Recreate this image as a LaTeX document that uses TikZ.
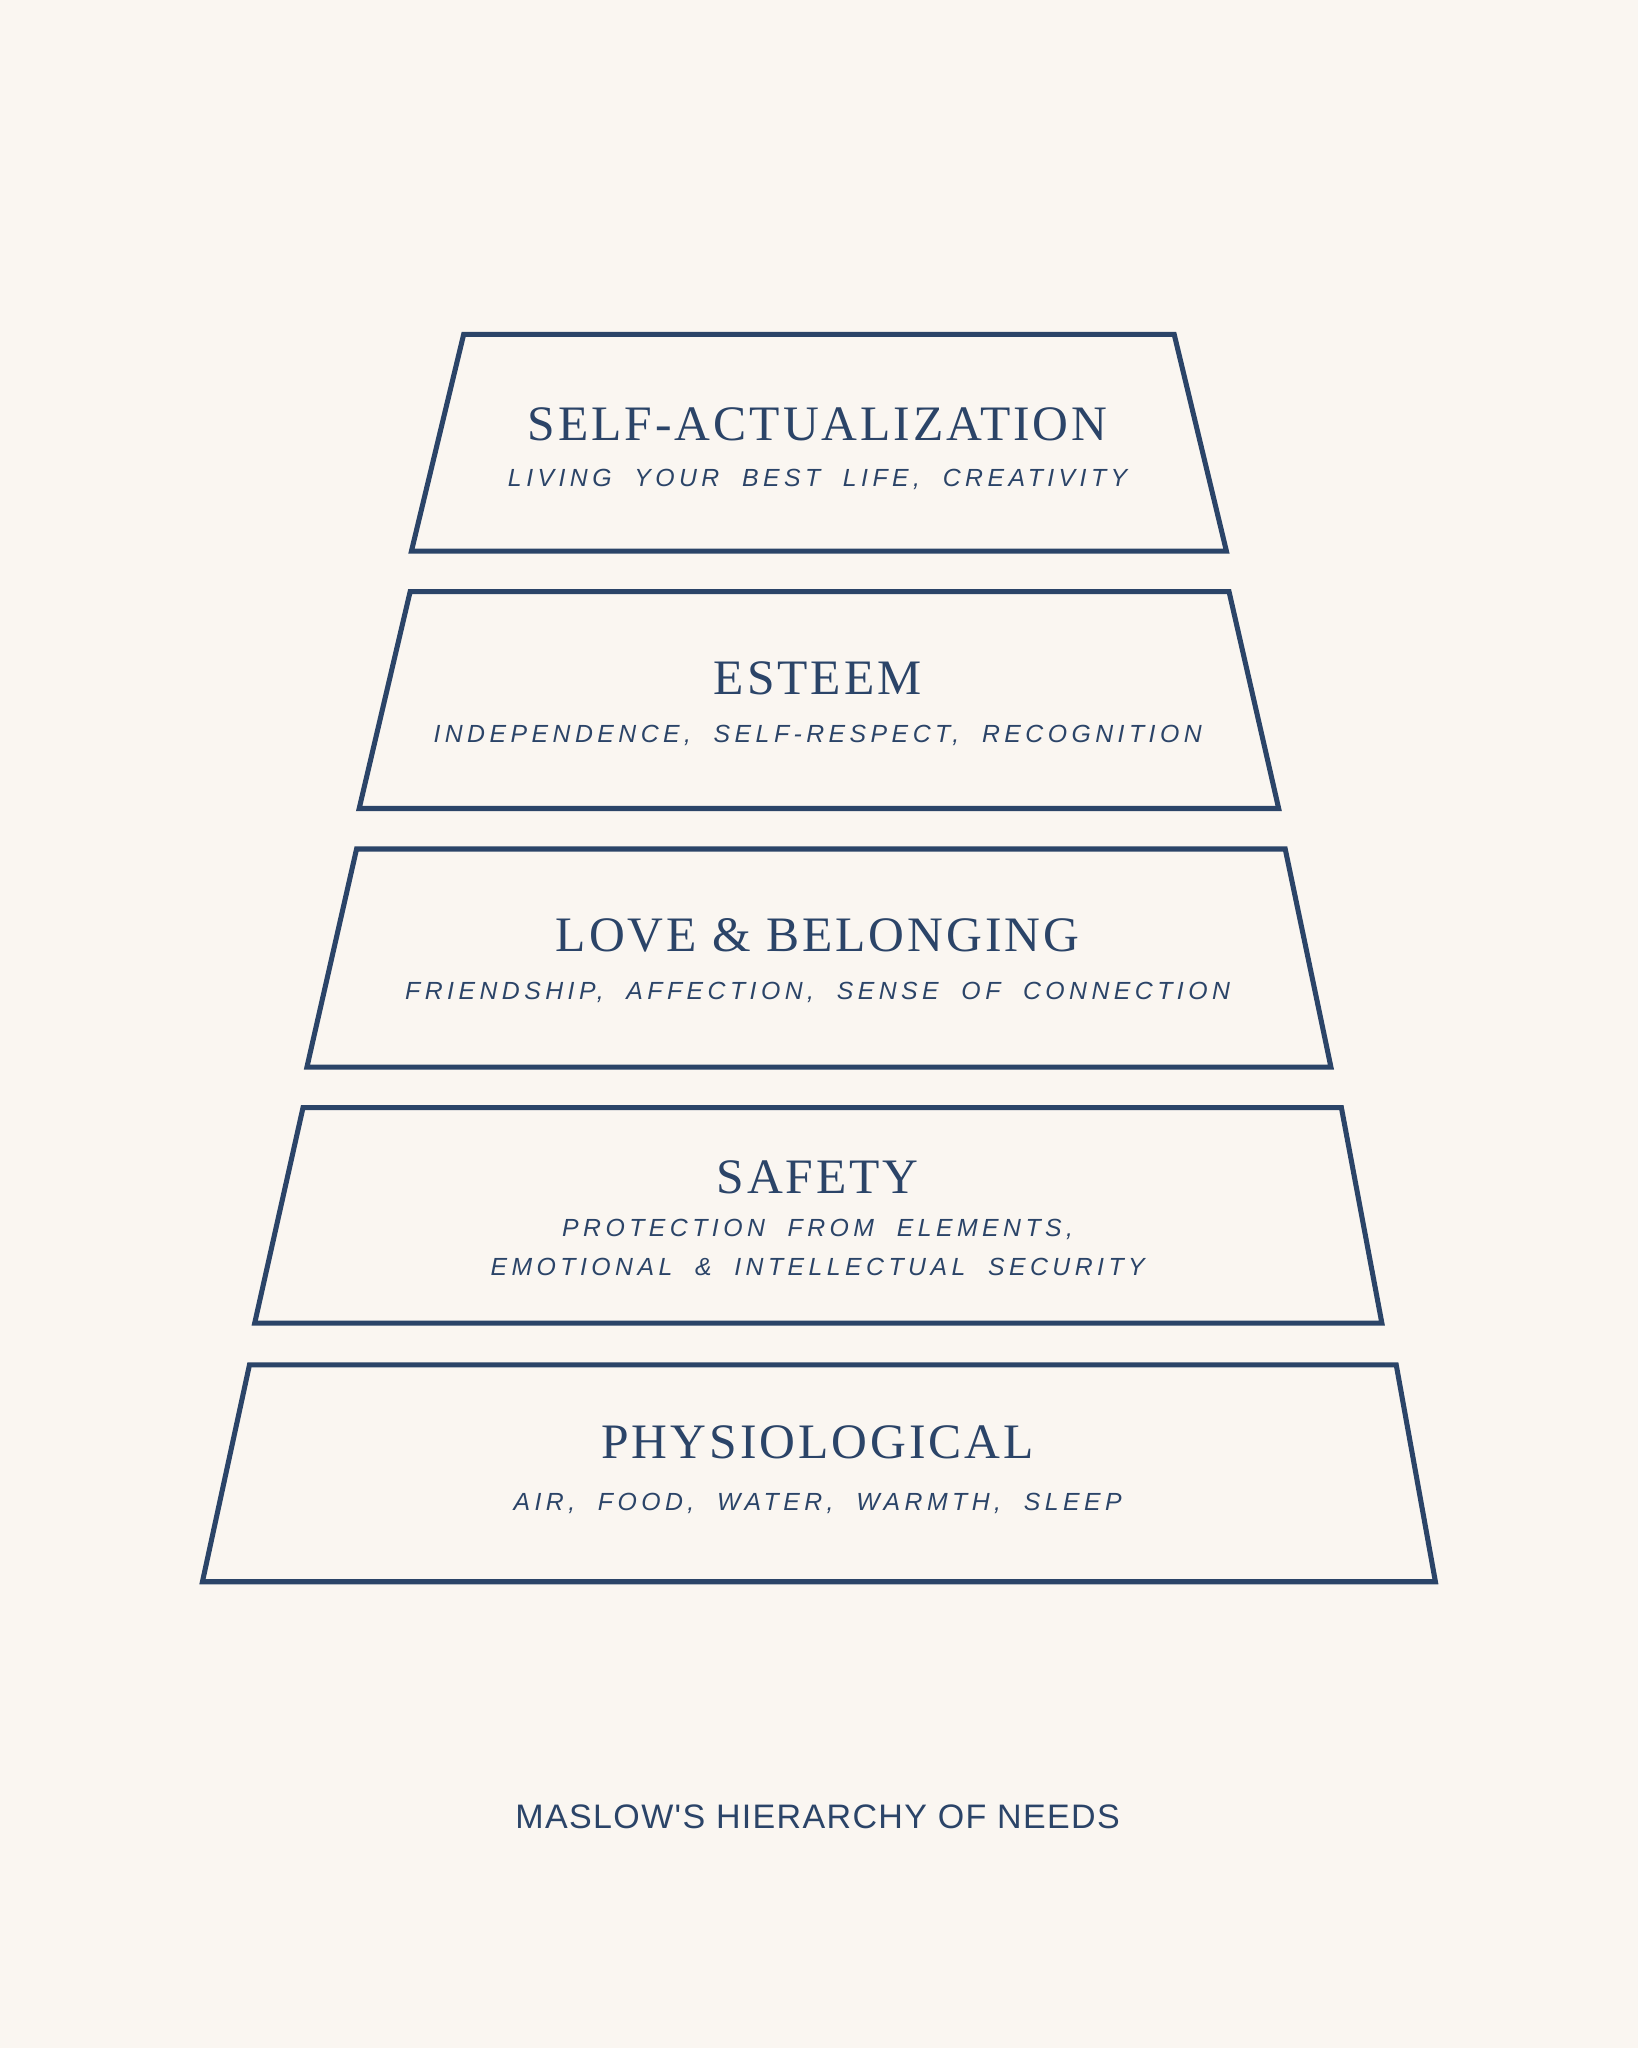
\documentclass[tikz,border=0pt]{standalone}
\usepackage{fontspec}
\setmainfont{Liberation Serif}
\newfontfamily\tierfont[LetterSpace=6]{Liberation Serif}
\newfontfamily\notefont[LetterSpace=18,WordSpace=2]{Liberation Sans}
\newfontfamily\footfont[LetterSpace=4]{Liberation Sans}
\definecolor{navy}{HTML}{2B4468}
\definecolor{paper}{HTML}{FAF6F1}
\tikzset{
  tier/.style={draw=navy, line width=1.1pt, line join=miter},
  tiername/.style={text=navy, font=\tierfont\fontsize{10.8}{13}\selectfont},
  tiernote/.style={text=navy, font=\notefont\itshape\fontsize{5.4}{8.5}\selectfont, align=center},
}
\begin{document}
\begin{tikzpicture}[x=0.01cm, y=-0.01cm]
    % Background
    \fill[paper] (0,0) rectangle (1254,1568);
    \useasboundingbox (0,0) rectangle (1254,1568);

    % Tiers
    \draw[tier] (355,256) -- (899,256) -- (939,422) -- (315,422) -- cycle;
    \draw[tier] (314,453) -- (941,453) -- (979,619) -- (275,619) -- cycle;
    \draw[tier] (273,650) -- (984,650) -- (1019,817) -- (235,817) -- cycle;
    \draw[tier] (232,848) -- (1027,848) -- (1058,1013) -- (195,1013) -- cycle;
    \draw[tier] (191,1045) -- (1069,1045) -- (1099,1211) -- (155,1211) -- cycle;

    % Labels
    \node[tiername] (self) at (626,325) {SELF-ACTUALIZATION};
    \node[tiernote] (selfnote) at (626,367) {LIVING YOUR BEST LIFE, CREATIVITY};

    \node[tiername] (esteem) at (626,519) {ESTEEM};
    \node[tiernote] (esteemnote) at (626,563) {INDEPENDENCE, SELF-RESPECT, RECOGNITION};

    \node[tiername] (love) at (626,716) {LOVE \& BELONGING};
    \node[tiernote] (lovenote) at (626,760) {FRIENDSHIP, AFFECTION, SENSE OF CONNECTION};

    \node[tiername] (safety) at (626,901) {SAFETY};
    \node[tiernote] (safetynote) at (626,955) {PROTECTION FROM ELEMENTS,\\EMOTIONAL \& INTELLECTUAL SECURITY};

    \node[tiername] (body) at (626,1104) {PHYSIOLOGICAL};
    \node[tiernote] (bodynote) at (626,1151) {AIR, FOOD, WATER, WARMTH, SLEEP};

    % Footer
    \node[text=navy, font=\footfont\fontsize{7.4}{9}\selectfont] (title) at (626,1391) {MASLOW'S HIERARCHY OF NEEDS};
\end{tikzpicture}
\end{document}
